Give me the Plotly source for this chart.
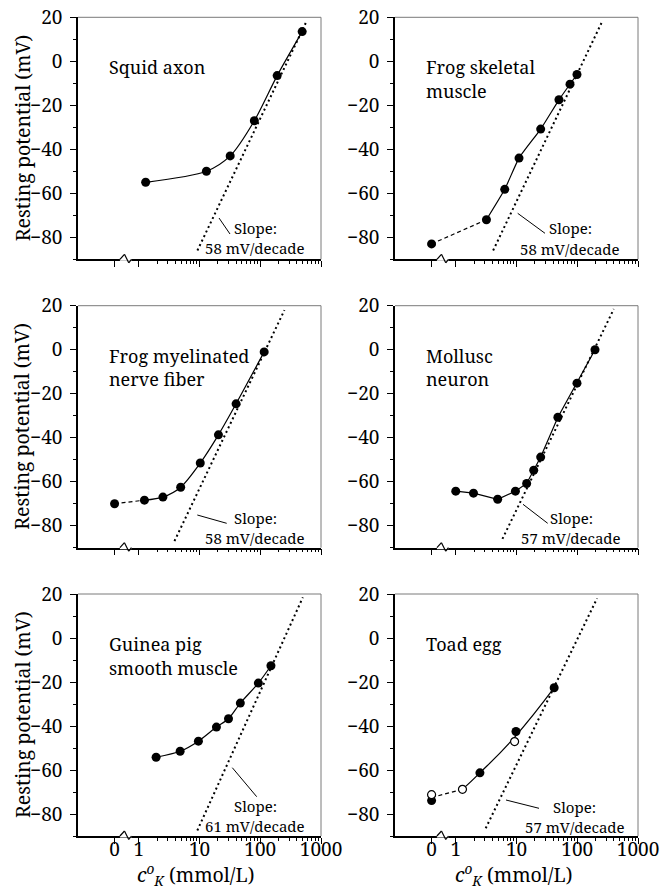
import numpy as np
import plotly.graph_objects as go

W, H = 665, 895
FONT = "Noto Serif, DejaVu Serif, serif"
FS_TICK, FS_TITLE, FS_YTITLE, FS_SLOPE = 19, 18, 19.5, 15

# ---------------- data ----------------
ZERO_POS = 0.4  # position on the log axis where c = 0 is drawn

panel_titles = [["Squid axon"], ["Frog skeletal", "muscle"],
                ["Frog myelinated", "nerve fiber"], ["Mollusc", "neuron"],
                ["Guinea pig", "smooth muscle"], ["Toad egg"]]

squid_c = [1.3, 13, 32, 80, 190, 490]
squid_v = [-55, -50, -43, -27, -6.5, 13.5]

frogsk_zero_v = -83
frogsk_c = [3.2, 6.4, 11, 25, 50, 76, 99]
frogsk_v = [-72, -58.2, -44, -30.8, -17.5, -10.4, -6]

frogmy_zero_v = -70
frogmy_c = [1.24, 2.5, 4.9, 10.3, 20.5, 40, 116]
frogmy_v = [-68.4, -67, -62.5, -51.5, -38.7, -24.6, -1]

moll_c = [1.0, 1.96, 4.9, 9.6, 14.7, 19.2, 25, 48, 99, 196]
moll_v = [-64.3, -65.2, -68, -64.3, -60.8, -54.8, -48.8, -30.7, -15.2, 0]

guinea_c = [1.93, 4.8, 9.6, 19, 30, 47, 93, 150]
guinea_v = [-54.2, -51.5, -46.9, -40.5, -36.7, -29.6, -20.5, -12.6]

toad_filled_c = [0, 2.5, 9.8, 41.7]
toad_filled_v = [-73.9, -61.3, -42.5, -22.6]
toad_open_c = [0, 1.29, 9.3]
toad_open_v = [-71.2, -68.8, -47.1]
toad_fit_c = [1.29, 2.5, 9.5, 41.7]
toad_fit_v = [-68.8, -61.3, -44.8, -22.6]
toad_zero_fit_v = -72.5

# Nernst-type slope lines: V = slope*log10(c) + intercept
slopes = [58, 58, 58, 57, 61, 57]
intercepts = [-142, -121.7, -121.1, -129.8, -146.3, -114.6]
slope_vranges = [(-86, 18), (-86, 18), (-87, 18), (-86, 18.5), (-87.5, 18.5), (-86.5, 18)]

x_tickvals = [ZERO_POS, 1, 10, 100, 1000]
x_ticktext = ["0", "1", "10", "100", "1000"]
x_minor = [m * d for d in (1, 10, 100) for m in range(2, 10)]
y_tickvals = [-80, -60, -40, -20, 0, 20]
y_ticktext = ["\u221280", "\u221260", "\u221240", "\u221220", "0", "20"]
y_minor = [-90, -70, -50, -30, -10, 10]

# ---------------- layout geometry (pixels) ----------------
col_left = [78, 395]
row_top = [17.3, 305.7, 594]
PW, PH = 243, 242


def px(x, y):
    return x / W, 1 - y / H


fig = go.Figure()
layout = dict(template="none", width=W, height=H,
              margin=dict(l=0, r=0, t=0, b=0, pad=0, autoexpand=False),
              paper_bgcolor="white", plot_bgcolor="white", showlegend=False,
              font=dict(family=FONT, color="black", size=FS_TICK))
shapes, annotations = [], []

zz = lambda v: ZERO_POS if v == 0 else v


def add(i, x, y, **kw):
    sfx = "" if i == 0 else str(i + 1)
    fig.add_trace(go.Scatter(x=x, y=y, xaxis="x" + sfx, yaxis="y" + sfx,
                             hoverinfo="skip", cliponaxis=False, **kw))


LINE = dict(color="black", width=1.2)
DASH = dict(color="black", width=1.2, dash="4px,3px")
FILLED = dict(color="black", size=9)
OPEN = dict(color="white", size=8, line=dict(color="black", width=1.2))

for i in range(6):
    r, c = divmod(i, 2)
    sfx = "" if i == 0 else str(i + 1)
    L, T = col_left[c], row_top[r]
    xd = [L / W, (L + PW) / W]
    yd = [1 - (T + PH) / H, 1 - T / H]
    layout["xaxis" + sfx] = dict(
        domain=xd, anchor="y" + sfx, type="log", range=[-1, 3], automargin=False,
        tickmode="array", tickvals=x_tickvals, ticktext=x_ticktext,
        showticklabels=(r == 2), ticks="outside", ticklen=6, tickwidth=1.2,
        tickcolor="black", showline=True, linecolor="black", linewidth=1.5,
        showgrid=False, zeroline=False, ticklabelstandoff=-11,
        tickfont=dict(size=FS_TICK, family=FONT, color="black"),
        minor=dict(tickmode="array", tickvals=x_minor, ticks="outside",
                   ticklen=3, tickwidth=1, tickcolor="black", showgrid=False))
    layout["yaxis" + sfx] = dict(
        domain=yd, anchor="x" + sfx, range=[-90, 20], automargin=False,
        tickmode="array", tickvals=y_tickvals, ticktext=y_ticktext,
        ticks="outside", ticklen=6, tickwidth=1.2, tickcolor="black",
        showline=True, linecolor="black", linewidth=1.5, showgrid=False,
        zeroline=False, tickfont=dict(size=FS_TICK, family=FONT, color="black"),
        ticklabelstandoff=4,
        minor=dict(tickmode="array", tickvals=y_minor, ticks="outside",
                   ticklen=3, tickwidth=1, tickcolor="black", showgrid=False))

    xr, yr = "x" + sfx + " domain", "y" + sfx + " domain"
    shapes.append(dict(type="line", xref=xr, yref=yr, x0=0, x1=1, y0=1, y1=1,
                       line=dict(color="#7a7a7a", width=1), layer="above"))
    shapes.append(dict(type="line", xref=xr, yref=yr, x0=1, x1=1, y0=0, y1=1,
                       line=dict(color="#7a7a7a", width=1), layer="above"))
    f = lambda lg: (lg + 1) / 4
    dy = 1 / PH
    shapes.append(dict(type="line", xref=xr, yref=yr, x0=f(-0.31), x1=f(-0.12),
                       y0=0, y1=0, line=dict(color="white", width=3), layer="above"))
    pts = [(f(-0.31), 0), (f(-0.235), 5 * dy), (f(-0.165), -3.5 * dy), (f(-0.12), 0)]
    for (a, b), (cc, d) in zip(pts[:-1], pts[1:]):
        shapes.append(dict(type="line", xref=xr, yref=yr, x0=a, x1=cc, y0=b, y1=d,
                           line=dict(color="black", width=1.2), layer="above"))

    vlo, vhi = slope_vranges[i]
    vv = np.array([vlo, vhi])
    cc_ = 10 ** ((vv - intercepts[i]) / slopes[i])
    add(i, cc_, vv, mode="lines", line=dict(color="black", width=2, dash="2px,3px"))

    for k, t in enumerate(panel_titles[i]):
        tx, ty = px(L + 28.5, T + 50 + 23.5 * k)
        annotations.append(dict(text=t, x=tx, y=ty, xref="paper", yref="paper",
                                xanchor="left", yanchor="middle", showarrow=False,
                                font=dict(size=FS_TITLE, family=FONT, color="black")))

add(0, squid_c, squid_v, mode="lines", line=dict(LINE, shape="spline", smoothing=0.8))
add(0, squid_c, squid_v, mode="markers", marker=FILLED)
add(1, [ZERO_POS, frogsk_c[0]], [frogsk_zero_v, frogsk_v[0]], mode="lines", line=DASH)
add(1, frogsk_c, frogsk_v, mode="lines", line=dict(LINE, shape="spline", smoothing=0.5))
add(1, [ZERO_POS] + frogsk_c, [frogsk_zero_v] + frogsk_v, mode="markers", marker=FILLED)
add(2, [ZERO_POS, frogmy_c[0]], [frogmy_zero_v, frogmy_v[0]], mode="lines", line=DASH)
add(2, frogmy_c, frogmy_v, mode="lines", line=dict(LINE, shape="spline", smoothing=0.8))
add(2, [ZERO_POS] + frogmy_c, [frogmy_zero_v] + frogmy_v, mode="markers", marker=FILLED)
add(3, moll_c, moll_v, mode="lines", line=LINE)
add(3, moll_c, moll_v, mode="markers", marker=FILLED)
add(4, guinea_c, guinea_v, mode="lines", line=dict(LINE, shape="spline", smoothing=0.8))
add(4, guinea_c, guinea_v, mode="markers", marker=FILLED)
add(5, [ZERO_POS, toad_fit_c[0]], [toad_zero_fit_v, toad_fit_v[0]], mode="lines", line=DASH)
add(5, toad_fit_c, toad_fit_v, mode="lines", line=dict(LINE, shape="spline", smoothing=1.3))
add(5, [zz(v) for v in toad_filled_c], toad_filled_v, mode="markers", marker=FILLED)
add(5, [zz(v) for v in toad_open_c], toad_open_v, mode="markers", marker=OPEN)

slope_text_pos = [(255, 238), (570, 238.5), (255, 528), (571, 528), (255, 816), (574.5, 817)]
leaders = [((219, 218), (230, 234)), ((517.7, 213.3), (545, 233.3)),
           ((197.3, 515), (226.7, 523.3)), ((523, 504.3), (547.7, 523.3)),
           ((232.3, 767.7), (256.7, 796.7)), ((506, 800), (539, 808.3))]
for i in range(6):
    x, y = slope_text_pos[i]
    for k, t in enumerate(["Slope:", f"{slopes[i]} mV/decade"]):
        tx, ty = px(x, y - 10 + 20 * k)
        annotations.append(dict(text=t, x=tx, y=ty, xref="paper", yref="paper",
                                xanchor="center", yanchor="middle", showarrow=False,
                                font=dict(size=FS_SLOPE, family=FONT, color="black")))
    (x0, y0), (x1, y1) = leaders[i]
    a0, b0 = px(x0, y0)
    a1, b1 = px(x1, y1)
    shapes.append(dict(type="line", xref="paper", yref="paper", x0=a0, y0=b0,
                       x1=a1, y1=b1, line=dict(color="black", width=1)))

for r in range(3):
    tx, ty = px(22, row_top[r] + PH / 2)
    annotations.append(dict(text="Resting potential (mV)", x=tx, y=ty, xref="paper",
                            yref="paper", textangle=-90, showarrow=False,
                            xanchor="center", yanchor="middle",
                            font=dict(size=FS_YTITLE, family=FONT, color="black")))
for c in range(2):
    tx, ty = px(col_left[c] + 118, 874)
    annotations.append(dict(text="<i>c</i><sup><i>o</i></sup><sub><i>K</i></sub> (mmol/L)",
                            x=tx, y=ty, xref="paper", yref="paper", showarrow=False,
                            xanchor="center", yanchor="middle",
                            font=dict(size=FS_YTITLE, family=FONT, color="black")))

layout["shapes"] = shapes
layout["annotations"] = annotations
fig.update_layout(**layout)
fig.write_html("out.html", config={"displayModeBar": False},
               post_script="document.body.style.margin='0px';document.body.style.padding='0px';")
